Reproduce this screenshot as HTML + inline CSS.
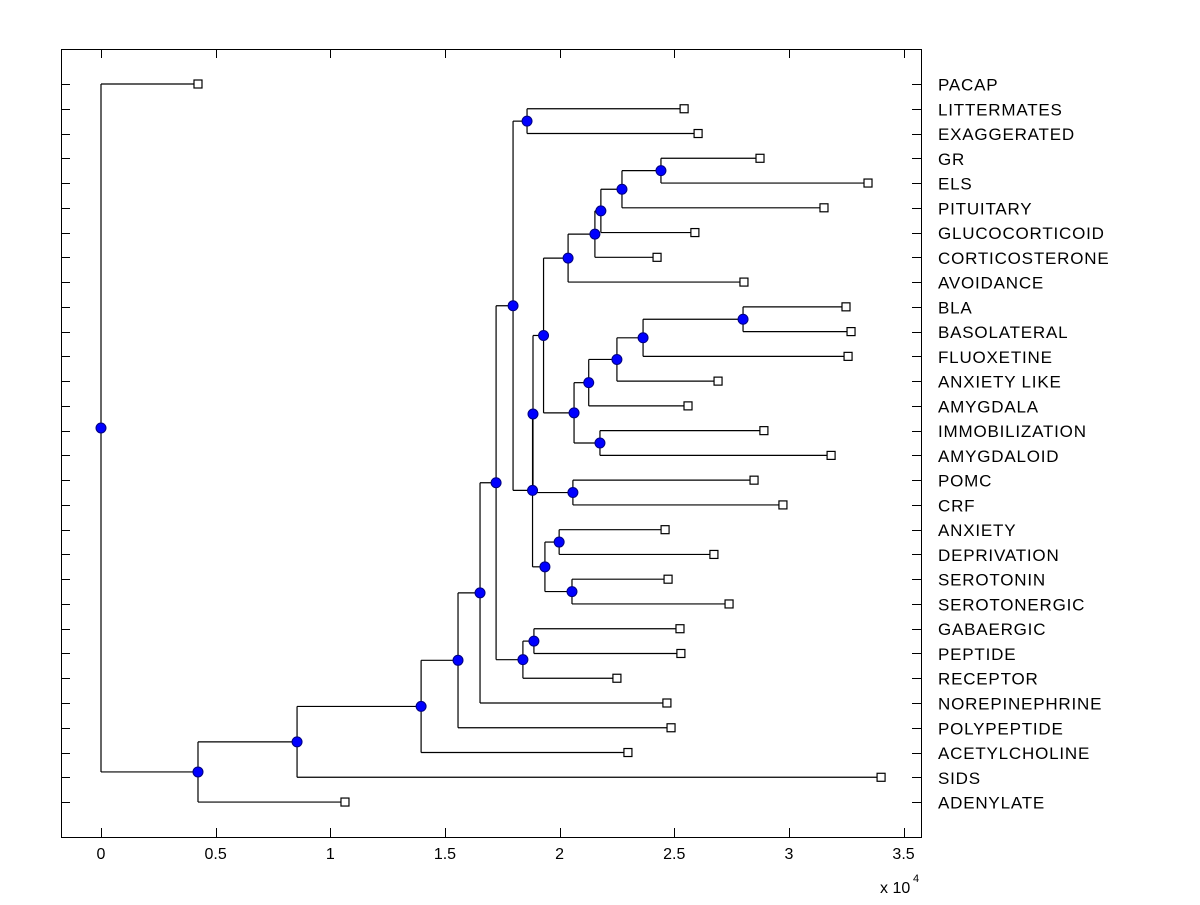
<!DOCTYPE html>
<html><head><meta charset="utf-8"><style>
body{margin:0;background:#fff;}
svg text{font-family:"Liberation Sans",Arial,sans-serif;}
</style></head><body>
<svg id="chart" width="1200" height="900" xmlns="http://www.w3.org/2000/svg">
<rect x="0" y="0" width="1200" height="900" fill="#fff"/>
<g id="plot"></g>
</svg>
<script>
const leafLabels = ["PACAP","LITTERMATES","EXAGGERATED","GR","ELS","PITUITARY","GLUCOCORTICOID","CORTICOSTERONE","AVOIDANCE","BLA","BASOLATERAL","FLUOXETINE","ANXIETY LIKE","AMYGDALA","IMMOBILIZATION","AMYGDALOID","POMC","CRF","ANXIETY","DEPRIVATION","SEROTONIN","SEROTONERGIC","GABAERGIC","PEPTIDE","RECEPTOR","NOREPINEPHRINE","POLYPEPTIDE","ACETYLCHOLINE","SIDS","ADENYLATE"];
const leafValues = [0.423,2.543,2.604,2.874,3.345,3.153,2.590,2.425,2.804,3.249,3.271,3.258,2.691,2.560,2.891,3.184,2.848,2.974,2.460,2.673,2.473,2.739,2.525,2.529,2.250,2.468,2.486,2.298,3.402,1.064];
const nodeChildA = [3,30,31,32,33,9,35,36,37,14,38,34,16,41,18,20,44,43,1,48,22,50,49,52,53,54,55,56,0];
const nodeChildB = [4,5,6,7,8,10,11,12,13,15,39,40,17,42,19,21,45,46,2,47,23,24,51,25,26,27,28,29,57];
const nodeValues = [2.442,2.272,2.180,2.154,2.037,2.800,2.364,2.250,2.127,2.176,2.063,1.930,2.058,1.884,1.998,2.054,1.936,1.882,1.858,1.797,1.888,1.840,1.723,1.653,1.557,1.396,0.855,0.423,0];
const xTickValues = [0,0.5,1,1.5,2,2.5,3,3.5];
const xTickLabels = ["0","0.5","1","1.5","2","2.5","3","3.5"];

const NS="http://www.w3.org/2000/svg";
const plot=document.getElementById('plot');
const L=61,R=921,T=49,B=837;
const xs=v=>101+v*229.3;
const ys=i=>84+i*24.76;
function mk(tag,attrs){const e=document.createElementNS(NS,tag);for(const k in attrs)e.setAttribute(k,attrs[k]);plot.appendChild(e);return e;}

let e=mk('rect',{x:L+0.5,y:T+0.5,width:R-L,height:B-T,fill:'none',stroke:'#000','stroke-width':1});



xTickValues.forEach((v,i)=>{
  const x=Math.round(xs(v))+0.5;
  let t=mk('line',{x1:x,x2:x,y1:B,y2:B-9,stroke:'#000'});
  
  
  t=mk('line',{x1:x,x2:x,y1:T,y2:T+9,stroke:'#000'});
  
  
  const lb=mk('text',{x:xs(v),y:859,'font-size':16,'text-anchor':'middle',fill:'#000'});
  lb.textContent=xTickLabels[i];
  
  
});
const ex=mk('text',{x:880,y:893,'font-size':16,fill:'#000'});
ex.textContent='x 10';


const ex2=mk('text',{x:913,y:882,'font-size':11,fill:'#000'});
ex2.textContent='4';



leafLabels.forEach((lab,i)=>{
  const y=Math.round(ys(i))+0.5;
  let t=mk('line',{x1:L,x2:L+9,y1:y,y2:y,stroke:'#000'});
  
  
  t=mk('line',{x1:R-9,x2:R,y1:y,y2:y,stroke:'#000'});
  
  
  const tx=mk('text',{x:938,y:ys(i)+6.5,'font-size':17,'letter-spacing':0.8,fill:'#000'});
  tx.textContent=lab;
  
  
});

const N=leafValues.length;
const posX=[],posY=[];
leafValues.forEach((v,i)=>{posX[i]=xs(v);posY[i]=ys(i);});
nodeValues.forEach((v,k)=>{
  const id=N+k,a=nodeChildA[k],b=nodeChildB[k];
  posX[id]=xs(v);posY[id]=(posY[a]+posY[b])/2;
});
nodeValues.forEach((v,k)=>{
  const id=N+k,a=nodeChildA[k],b=nodeChildB[k];
  const x=posX[id];
  let ln=mk('line',{x1:x,x2:x,y1:posY[a],y2:posY[b],stroke:'#000','stroke-width':1.2});
  
  
  [a,b].forEach(c=>{
    ln=mk('line',{x1:x,x2:posX[c],y1:posY[c],y2:posY[c],stroke:'#000','stroke-width':1.2});
    
    
  });
});
leafValues.forEach((v,i)=>{
  const s=mk('rect',{x:posX[i]-4,y:posY[i]-4,width:8,height:8,fill:'#fff',stroke:'#000','stroke-width':1.2});
  
  
});
nodeValues.forEach((v,k)=>{
  const id=N+k;
  const c=mk('circle',{cx:posX[id],cy:posY[id],r:5,fill:'#0000ff',stroke:'#000080','stroke-width':1});
  
  
});
</script>
</body></html>
